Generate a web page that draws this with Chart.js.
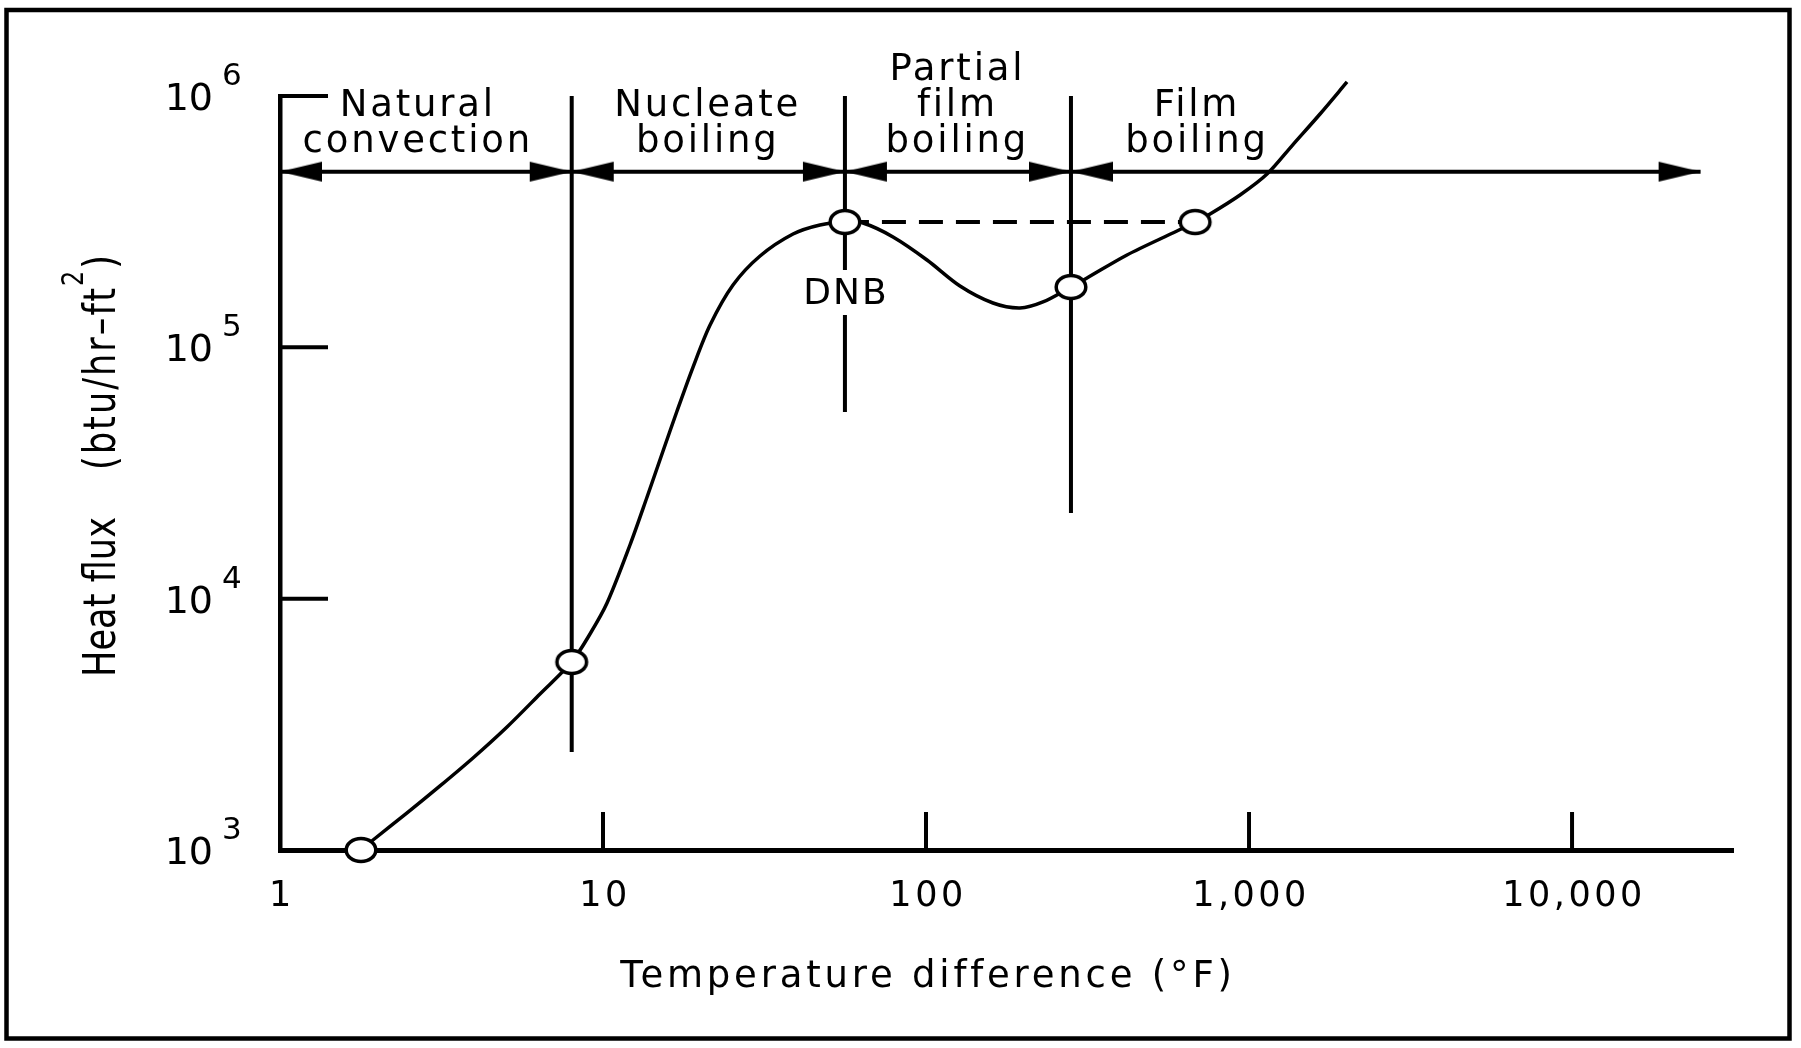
<!DOCTYPE html>
<html>
<head>
<meta charset="utf-8">
<title>Boiling curve</title>
<script src="https://cdn.jsdelivr.net/npm/chart.js@4.4.1/dist/chart.umd.min.js"></script>
<style>
  html, body { margin: 0; padding: 0; background: #fff; }
  #wrap { width: 1801px; height: 1048px; }
</style>
</head>
<body>
<div id="wrap"><canvas id="chart"></canvas></div>
<script>
// boiling curve, values (deg F vs btu/hr-ft2)
const curveX = [1.781, 1.941, 2.474, 3.129, 3.958, 5.044, 6.382, 8, 9.113, 10.29, 12.12, 13.69, 15.34, 16.95, 19.0, 21.45,
  25.26, 30.63, 38.75, 46.96, 56.1, 63.8, 79.05, 100.7, 127.4, 161.2, 195.4, 230.2, 281, 315.1, 419, 598.4, 681, 757.5,
  937.9, 1137, 1368, 1659, 2011];
const curveY = [1000, 1096, 1404, 1798, 2323, 3086, 4176, 5600, 7235, 9610, 16350, 25380, 38680, 55810, 83510, 122700,
  177000, 230900, 282400, 306800, 315200, 312300, 274800, 222600, 175400, 150100, 143400, 151500, 173800, 188800, 233100,
  290300, 315200, 339100, 403600, 489200, 641000, 848100, 1137000];

// the circled points
const markerX = [1.781, 8, 56.1, 281, 681];
const markerY = [1000, 5600, 315200, 173800, 315200];

// regime boundaries along the arrow line
const boundaryX = [1, 8, 56.1, 281, 25000];
const arrowY = 500000;
const regionLabels = [['Natural', 'convection'], ['Nucleate', 'boiling'], ['Partial', 'film', 'boiling'], ['Film', 'boiling']];
const regionLabelX = [2.67, 21.1, 125, 690];

// vertical divider lines, top is 10^6
const dividerX = [8, 56.1, 281];
const dividerBottom = [2455, 55350, 21940];
const dnbGap = [203200, 134600]; // break in the DNB line for its label

// dashed line DNB -> film boiling at same flux
const dashX = [56.1, 681];
const dashY = 315200;

const xTicks = [1, 10, 100, 1000, 10000];
const xTickLabels = ['1', '10', '100', '1,000', '10,000'];
const yTicks = [1e3, 1e4, 1e5, 1e6];
const yTickExp = ['3', '4', '5', '6'];

const FONT = '"DejaVu Sans", sans-serif';

function ellipseMarker() {
  const c = document.createElement('canvas');
  c.width = 38; c.height = 32;
  const g = c.getContext('2d');
  g.beginPath();
  g.ellipse(19, 16, 14.8, 11.6, 0, 0, Math.PI * 2);
  g.fillStyle = '#fff';
  g.fill();
  g.lineWidth = 3.5;
  g.strokeStyle = '#000';
  g.stroke();
  return c;
}

// arrowhead images, tip(s) at the centre of the canvas
function arrowHead(left, right) {
  const c = document.createElement('canvas');
  c.width = 86; c.height = 22;
  const g = c.getContext('2d');
  g.fillStyle = '#000';
  if (left) { // points right, tip at centre
    g.beginPath(); g.moveTo(1, 1); g.lineTo(43, 11); g.lineTo(1, 21); g.closePath(); g.fill();
  }
  if (right) { // points left, tip at centre
    g.beginPath(); g.moveTo(85, 1); g.lineTo(43, 11); g.lineTo(85, 21); g.closePath(); g.fill();
  }
  return c;
}

const marker = ellipseMarker();
const headStart = arrowHead(false, true);
const headBoth = arrowHead(true, true);
const headEnd = arrowHead(true, false);

const pts = (xs, ys) => xs.map((x, i) => ({ x: x, y: ys[i] }));

const datasets = [];

datasets.push({
  label: 'points',
  data: pts(markerX, markerY),
  showLine: false,
  pointStyle: marker,
  pointRadius: 16,
  order: 0,
  clip: false
});

datasets.push({
  label: 'arrowheads',
  data: boundaryX.map(x => ({ x: x, y: arrowY })),
  showLine: false,
  pointStyle: boundaryX.map((x, i) => i === 0 ? headStart : (i === boundaryX.length - 1 ? headEnd : headBoth)),
  pointRadius: 20,
  order: 1,
  clip: false
});

datasets.push({
  label: 'heat flux',
  data: pts(curveX, curveY),
  borderColor: '#000',
  borderWidth: 3.5,
  pointRadius: 0,
  tension: 0.3,
  order: 2,
  clip: false
});

datasets.push({
  label: 'regimes',
  data: [{ x: boundaryX[0], y: arrowY }, { x: boundaryX[boundaryX.length - 1], y: arrowY }],
  borderColor: '#000',
  borderWidth: 4,
  pointRadius: 0,
  order: 3,
  clip: false
});

dividerX.forEach((x, i) => {
  let d;
  if (i === 1) {
    d = [{ x: x, y: 1e6 }, { x: x, y: dnbGap[0] }, { x: x, y: null }, { x: x, y: dnbGap[1] }, { x: x, y: dividerBottom[i] }];
  } else {
    d = [{ x: x, y: 1e6 }, { x: x, y: dividerBottom[i] }];
  }
  datasets.push({
    label: 'divider ' + x,
    data: d,
    borderColor: '#000',
    borderWidth: 4,
    pointRadius: 0,
    spanGaps: false,
    order: 3,
    clip: false
  });
});

datasets.push({
  label: 'DNB level',
  data: dashX.map(x => ({ x: x, y: dashY })),
  borderColor: '#000',
  borderWidth: 4,
  borderDash: [24, 13],
  pointRadius: 0,
  order: 3,
  clip: false
});

// frame, inward ticks and all the lettering
const decor = {
  id: 'decor',
  beforeDraw(chart) {
    const ctx = chart.ctx;
    ctx.save();
    ctx.fillStyle = '#fff';
    ctx.fillRect(0, 0, chart.width, chart.height);
    ctx.strokeStyle = '#000';
    ctx.lineWidth = 4.5;
    ctx.strokeRect(6.5, 10, 1783, 1028.5);
    ctx.restore();
  },
  afterDraw(chart) {
    const ctx = chart.ctx;
    const xs = chart.scales.x;
    const ys = chart.scales.y;
    const area = chart.chartArea;
    ctx.save();
    ctx.strokeStyle = '#000';
    ctx.fillStyle = '#000';
    ctx.lineWidth = 4;

    // ticks point into the plot
    xs.ticks.forEach(t => {
      if (t.value === xTicks[0]) return;
      const px = xs.getPixelForValue(t.value);
      ctx.beginPath(); ctx.moveTo(px, area.bottom); ctx.lineTo(px, area.bottom - 38); ctx.stroke();
    });
    ys.ticks.forEach(t => {
      if (t.value === yTicks[0]) return;
      const py = ys.getPixelForValue(t.value);
      ctx.beginPath(); ctx.moveTo(area.left, py); ctx.lineTo(area.left + 48, py); ctx.stroke();
    });

    ctx.textBaseline = 'alphabetic';

    // x tick labels
    ctx.font = '35px ' + FONT;
    ctx.letterSpacing = '3.5px';
    ctx.textAlign = 'center';
    xTicks.forEach((v, i) => {
      ctx.fillText(xTickLabels[i], xs.getPixelForValue(v) + 2, 906);
    });

    // y tick labels: 10 with raised exponent
    ctx.letterSpacing = '0px';
    yTicks.forEach((v, i) => {
      const py = ys.getPixelForValue(v);
      ctx.font = '38px ' + FONT;
      ctx.textAlign = 'right';
      ctx.fillText('10', 213, py + 14);
      ctx.font = '31px ' + FONT;
      ctx.textAlign = 'left';
      ctx.fillText(yTickExp[i], 222, py - 11);
    });

    // regime names above the arrow line
    ctx.font = '37px ' + FONT;
    ctx.letterSpacing = '2.8px';
    ctx.textAlign = 'center';
    regionLabels.forEach((lines, i) => {
      const cx = xs.getPixelForValue(regionLabelX[i]);
      lines.forEach((s, j) => {
        ctx.fillText(s, cx, 152 - (lines.length - 1 - j) * 36);
      });
    });

    // DNB
    ctx.font = '36px ' + FONT;
    ctx.letterSpacing = '2px';
    ctx.fillText('DNB', xs.getPixelForValue(56.1) + 1, 304);

    // x axis title
    ctx.font = '37px ' + FONT;
    ctx.letterSpacing = '3.8px';
    ctx.fillText('Temperature difference (°F)', 928, 987);

    // y axis title, rotated, a little condensed
    ctx.translate(115, 677);
    ctx.rotate(-Math.PI / 2);
    ctx.scale(0.8, 1);
    ctx.textAlign = 'left';
    ctx.font = '44px ' + FONT;
    ctx.letterSpacing = '0px';
    ctx.fillText('Heat flux', 0, 0);
    let lx = 207 / 0.8;
    ctx.letterSpacing = '2.5px';
    ctx.fillText('(btu/hr–ft', lx, 0);
    lx += ctx.measureText('(btu/hr–ft').width;
    ctx.font = '30px ' + FONT;
    ctx.fillText('2', lx, -32);
    lx += ctx.measureText('2').width;
    ctx.font = '44px ' + FONT;
    ctx.fillText(')', lx, 0);

    ctx.restore();
  }
};

new Chart(document.querySelector('#chart'), {
  type: 'line',
  data: { datasets: datasets },
  options: {
    responsive: true,
    maintainAspectRatio: false,
    animation: false,
    events: [],
    layout: { padding: { left: 280, right: 68, top: 96, bottom: 198 } },
    plugins: {
      legend: { display: false },
      tooltip: { enabled: false }
    },
    scales: {
      x: {
        type: 'logarithmic',
        min: 1,
        max: 31500,
        afterBuildTicks: s => { s.ticks = xTicks.map(v => ({ value: v })); },
        ticks: { display: false },
        grid: { display: true, drawOnChartArea: false, drawTicks: false },
        border: { display: true, color: '#000', width: 5 }
      },
      y: {
        type: 'logarithmic',
        min: 1000,
        max: 1e6,
        afterBuildTicks: s => { s.ticks = yTicks.map(v => ({ value: v })); },
        ticks: { display: false },
        grid: { display: true, drawOnChartArea: false, drawTicks: false },
        border: { display: true, color: '#000', width: 4.5 }
      }
    }
  },
  plugins: [decor]
});
</script>
</body>
</html>
